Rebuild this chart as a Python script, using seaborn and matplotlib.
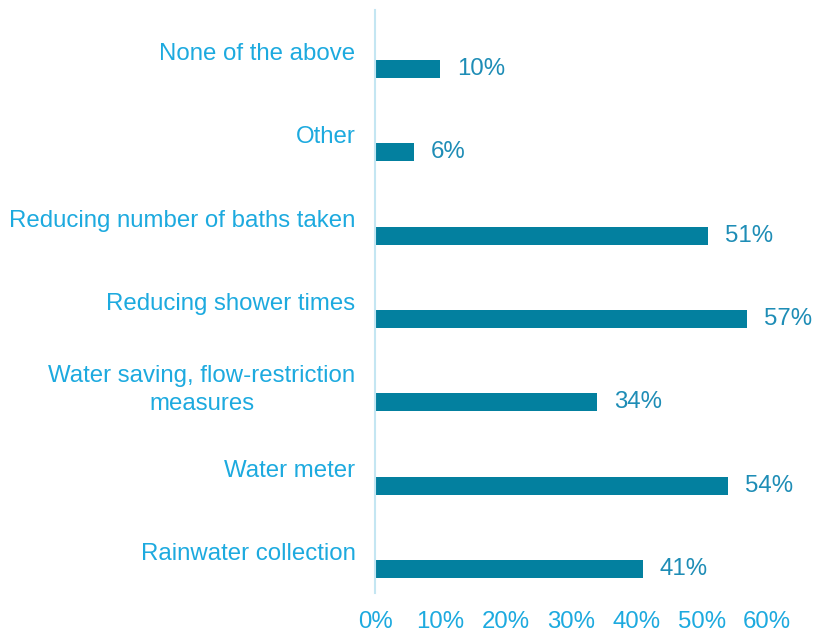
import numpy as np
import pandas as pd
import matplotlib
matplotlib.use('Agg')
import matplotlib.pyplot as plt
import seaborn as sns


categories = [
    'None of the above',
    'Other',
    'Reducing number of baths taken',
    'Reducing shower times',
    'Water saving, flow-restriction\nmeasures',
    'Water meter',
    'Rainwater collection',
]
shares = [0.10, 0.06, 0.51, 0.57, 0.34, 0.54, 0.41]
x_ticks = [0.0, 0.1, 0.2, 0.3, 0.4, 0.5, 0.6]

BAR_COLOR = '#03809F'
LABEL_COLOR = '#1DAADF'
VALUE_COLOR = '#1E8DB6'
AXIS_COLOR = '#C4E6F2'
FS = 17.3

sns.set_style('white')
plt.rcParams['font.family'] = ['Liberation Sans', 'DejaVu Sans']

df = pd.DataFrame({'category': categories, 'share': shares})

fig = plt.figure(figsize=(8.13, 6.35), dpi=100)
ax = fig.add_axes([0.4613, 0.0661, 0.4822, 0.9182])

sns.barplot(
    data=df,
    x='share',
    y='category',
    orient='h',
    color=BAR_COLOR,
    saturation=1,
    width=0.215,
    linewidth=0,
    ax=ax
)

# bars sit in the lower part of each band, labels at band centre
offset = 0.21
n = len(categories)
ax.set_yticks(np.arange(n) - offset, labels=categories)
ax.set_ylim(n - 0.5 - offset, -0.5 - offset)
ax.set_xlim(0, 0.6)
ax.set_xticks(x_ticks, labels=[f'{t:.0%}' for t in x_ticks])

for lbl in ax.get_yticklabels():
    lbl.set_multialignment('center')
    lbl.set_linespacing(1.35)

ax.tick_params(axis='y', length=0, pad=14, labelsize=FS, labelcolor=LABEL_COLOR)
ax.tick_params(axis='x', length=0, pad=13, labelsize=FS, labelcolor=LABEL_COLOR)

ax.bar_label(
    ax.containers[0],
    labels=[f'{v:.0%}' for v in shares],
    padding=12,
    fontsize=FS,
    color=VALUE_COLOR
)

ax.set_xlabel('')
ax.set_ylabel('')
for side in ['top', 'right', 'bottom']:
    ax.spines[side].set_visible(False)
ax.spines['left'].set_color(AXIS_COLOR)
ax.spines['left'].set_linewidth(1.5)
ax.grid(False)

fig.savefig('out.png', dpi=100)
